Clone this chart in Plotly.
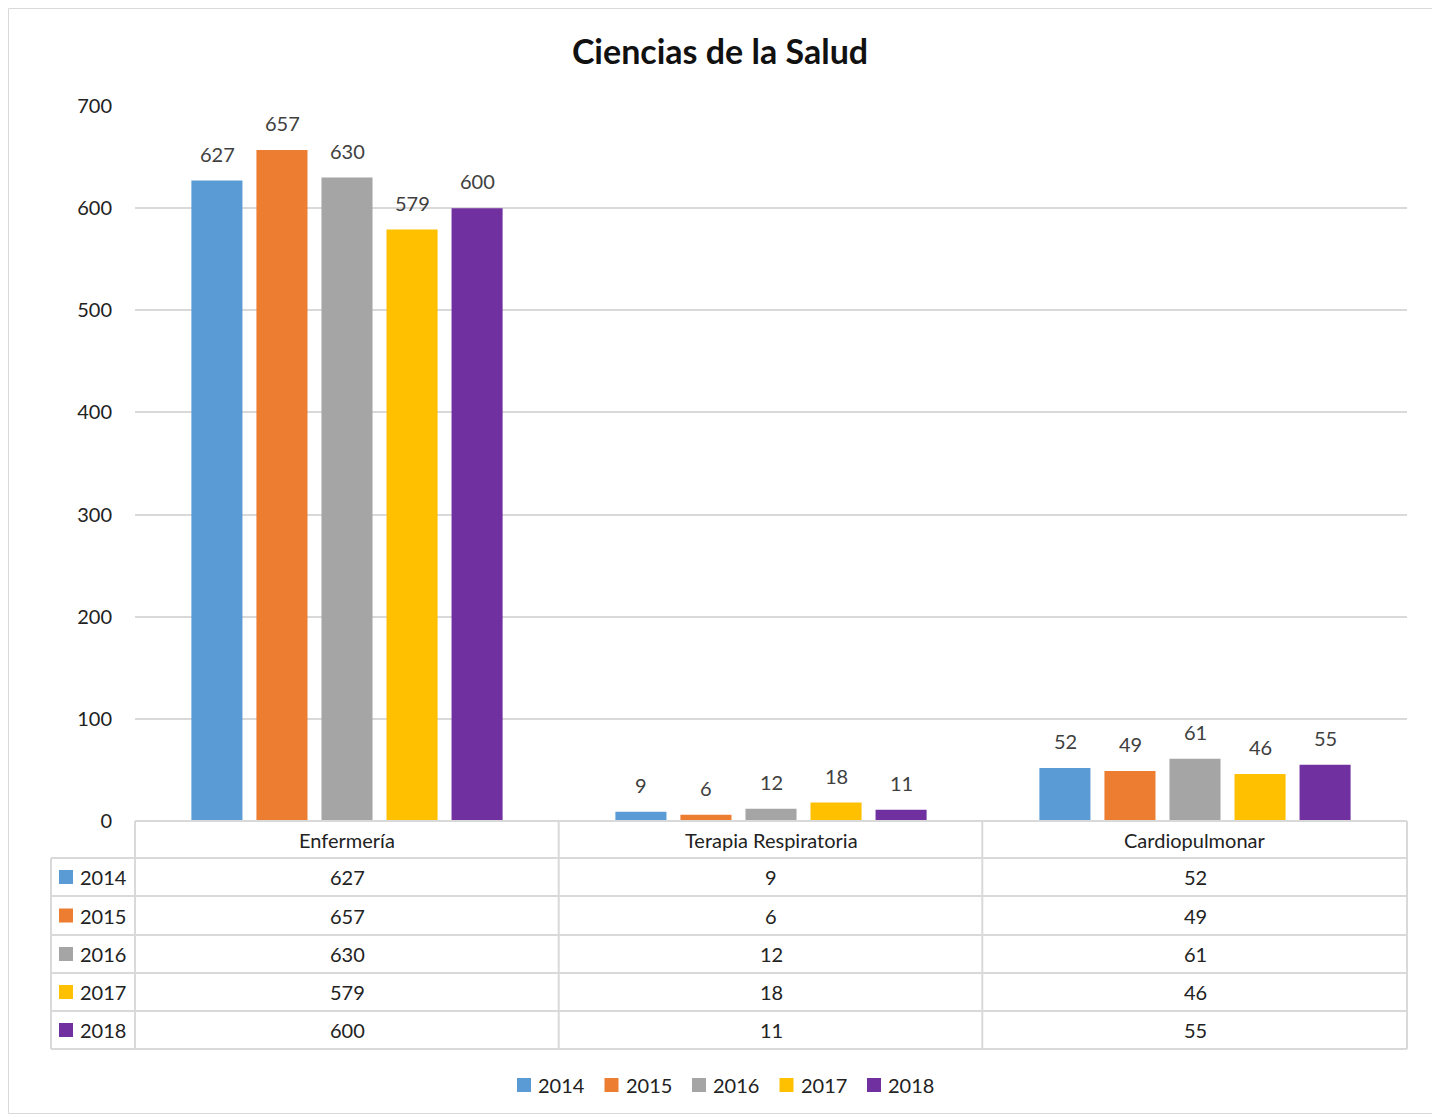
import plotly.graph_objects as go

categories = ["Enfermería", "Terapia Respiratoria", "Cardiopulmonar"]
years = ["2014", "2015", "2016", "2017", "2018"]
values_2014 = [627, 9, 52]
values_2015 = [657, 6, 49]
values_2016 = [630, 12, 61]
values_2017 = [579, 18, 46]
values_2018 = [600, 11, 55]
series = [values_2014, values_2015, values_2016, values_2017, values_2018]
colors = ["#5B9BD5", "#ED7D31", "#A5A5A5", "#FFC000", "#7030A0"]
y_ticks = [0, 100, 200, 300, 400, 500, 600, 700]

FONT = "Lato"
OFF = 8  # browser body margin
W, H = 1428, 1107
# plot area in page pixel coordinates
L, R, T, B = 135, 1407, 106, 821


def px(x):
    return (x - L) / (R - L)


def py(y):
    return (B - y) / (B - T)


fig = go.Figure()
for yr, vals, col in zip(years, series, colors):
    fig.add_trace(go.Bar(name=yr, x=categories, y=vals, marker_color=col,
                         marker_line_width=0, showlegend=False))

# value labels above bars
for i, (vals, col) in enumerate(zip(series, colors)):
    for cat, v in zip(categories, vals):
        fig.add_annotation(x=cat, y=v, xref="x", yref="y", text=str(v),
                           showarrow=False, xshift=(i - 2) * 65, yshift=27,
                           yanchor="middle", xanchor="center",
                           font=dict(family=FONT, size=20, color="#404040"))

shapes = []
grid = "#d9d9d9"
row_lines = [858, 896, 935, 973, 1011, 1049]
shapes.append(dict(type="line", xref="paper", yref="paper", x0=0, x1=1,
                   y0=py(821), y1=py(821), line=dict(color=grid, width=2)))
for ry in row_lines:
    shapes.append(dict(type="line", xref="paper", yref="paper", x0=px(51), x1=1,
                       y0=py(ry), y1=py(ry), line=dict(color=grid, width=2)))
shapes.append(dict(type="line", xref="paper", yref="paper", x0=px(51), x1=px(51),
                   y0=py(858), y1=py(1049), line=dict(color=grid, width=2)))
for vx in [135, 558.7, 982.3, 1407]:
    shapes.append(dict(type="line", xref="paper", yref="paper", x0=px(vx), x1=px(vx),
                       y0=py(821), y1=py(1049), line=dict(color=grid, width=2)))
# outer chart border
shapes.append(dict(type="rect", xref="paper", yref="paper", x0=px(8.5), x1=px(1435.5),
                   y0=py(8.5), y1=py(1113.5), line=dict(color="#d9d9d9", width=1)))

# header row labels
for cat in categories:
    fig.add_annotation(x=cat, y=py(839.5), xref="x", yref="paper", text=cat,
                       showarrow=False, yanchor="middle", xanchor="center",
                       font=dict(family=FONT, size=20, color="#222222"))

row_centers = [877, 915.5, 954, 992, 1030]
for yr, vals, col, rc in zip(years, series, colors, row_centers):
    shapes.append(dict(type="rect", xref="paper", yref="paper", x0=px(59), x1=px(73),
                       y0=py(rc - 7), y1=py(rc + 7), line=dict(width=0), fillcolor=col))
    fig.add_annotation(x=px(78), y=py(rc), xref="paper", yref="paper", text=yr,
                       xanchor="left", yanchor="middle", showarrow=False,
                       font=dict(family=FONT, size=20, color="#222222"))
    for cat, v in zip(categories, vals):
        fig.add_annotation(x=cat, y=py(rc), xref="x", yref="paper", text=str(v),
                           showarrow=False, yanchor="middle", xanchor="center",
                           font=dict(family=FONT, size=20, color="#222222"))

# legend (drawn to match the original spacing)
LEG_Y = 1085
for i, (yr, col) in enumerate(zip(years, colors)):
    x0 = 517 + i * 87.5
    shapes.append(dict(type="rect", xref="paper", yref="paper", x0=px(x0), x1=px(x0 + 14),
                       y0=py(LEG_Y - 7), y1=py(LEG_Y + 7), line=dict(width=0), fillcolor=col))
    fig.add_annotation(x=px(x0 + 19), y=py(LEG_Y), xref="paper", yref="paper", text=yr,
                       xanchor="left", yanchor="middle", showarrow=False,
                       font=dict(family=FONT, size=20, color="#222222"))

fig.update_layout(
    width=W, height=H,
    margin=dict(l=L - OFF, r=W - (R - OFF), t=T - OFF, b=H - (B - OFF), pad=0),
    paper_bgcolor="white", plot_bgcolor="white",
    barmode="group", bargap=0.233, bargroupgap=0.215,
    title=dict(text="<b>Ciencias de la Salud</b>", x=px(720), xref="paper", xanchor="center",
               y=1 - (52 - OFF) / H, yref="container", yanchor="middle",
               font=dict(family=FONT, size=34, color="#111111")),
    font=dict(family=FONT, size=20, color="#404040"),
    showlegend=False,
    shapes=shapes,
)
fig.update_xaxes(showticklabels=False, showgrid=False, zeroline=False, showline=False,
                 ticks="")
fig.update_yaxes(range=[0, 700], tickvals=y_ticks, showgrid=True, gridcolor=grid,
                 gridwidth=1.5, zeroline=False, showline=False, ticks="",
                 ticklabelstandoff=22, tickfont=dict(family=FONT, size=20, color="#222222"))

fig.write_html("out.html")
